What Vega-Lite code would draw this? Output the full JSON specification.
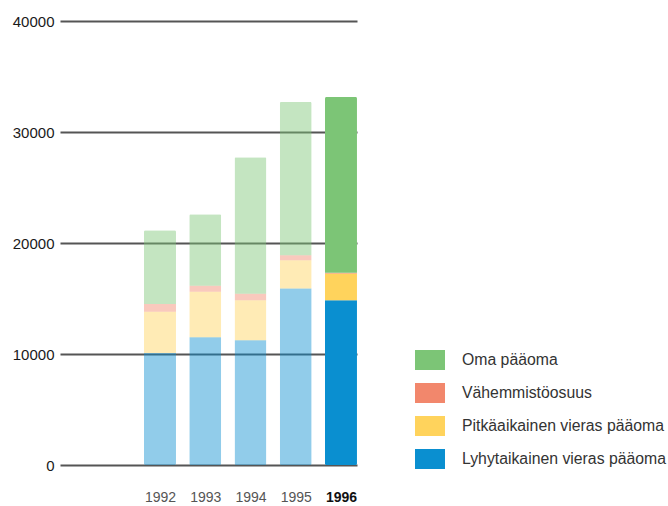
{
  "$schema": "https://vega.github.io/schema/vega-lite/v6.json",
  "width": 297,
  "height": 444,
  "autosize": {"type": "none"},
  "padding": {"left": 60, "top": 21, "right": 311, "bottom": 41},
  "background": "white",
  "config": {
    "view": {"stroke": null},
    "font": "Liberation Sans"
  },
  "data": {
    "values": [
      {"year": 1992, "series": "Lyhytaikainen vieras pääoma", "ord": 1, "value": 10100, "hl": "pale"},
      {"year": 1992, "series": "Pitkäaikainen vieras pääoma", "ord": 2, "value": 3700, "hl": "pale"},
      {"year": 1992, "series": "Vähemmistöosuus", "ord": 3, "value": 700, "hl": "pale"},
      {"year": 1992, "series": "Oma pääoma", "ord": 4, "value": 6650, "hl": "pale"},
      {"year": 1993, "series": "Lyhytaikainen vieras pääoma", "ord": 1, "value": 11500, "hl": "pale"},
      {"year": 1993, "series": "Pitkäaikainen vieras pääoma", "ord": 2, "value": 4100, "hl": "pale"},
      {"year": 1993, "series": "Vähemmistöosuus", "ord": 3, "value": 550, "hl": "pale"},
      {"year": 1993, "series": "Oma pääoma", "ord": 4, "value": 6450, "hl": "pale"},
      {"year": 1994, "series": "Lyhytaikainen vieras pääoma", "ord": 1, "value": 11250, "hl": "pale"},
      {"year": 1994, "series": "Pitkäaikainen vieras pääoma", "ord": 2, "value": 3600, "hl": "pale"},
      {"year": 1994, "series": "Vähemmistöosuus", "ord": 3, "value": 570, "hl": "pale"},
      {"year": 1994, "series": "Oma pääoma", "ord": 4, "value": 12300, "hl": "pale"},
      {"year": 1995, "series": "Lyhytaikainen vieras pääoma", "ord": 1, "value": 15900, "hl": "pale"},
      {"year": 1995, "series": "Pitkäaikainen vieras pääoma", "ord": 2, "value": 2550, "hl": "pale"},
      {"year": 1995, "series": "Vähemmistöosuus", "ord": 3, "value": 450, "hl": "pale"},
      {"year": 1995, "series": "Oma pääoma", "ord": 4, "value": 13800, "hl": "pale"},
      {"year": 1996, "series": "Lyhytaikainen vieras pääoma", "ord": 1, "value": 14850, "hl": "full"},
      {"year": 1996, "series": "Pitkäaikainen vieras pääoma", "ord": 2, "value": 2400, "hl": "full"},
      {"year": 1996, "series": "Vähemmistöosuus", "ord": 3, "value": 60, "hl": "full"},
      {"year": 1996, "series": "Oma pääoma", "ord": 4, "value": 15850, "hl": "full"}
    ]
  },
  "mark": {"type": "bar", "width": 32, "cornerRadius": 1.5},
  "encoding": {
    "x": {
      "field": "year",
      "type": "quantitative",
      "scale": {"domain": [1989.79, 1996.354], "nice": false, "zero": false, "padding": 0},
      "axis": {
        "values": [1992, 1993, 1994, 1995, 1996],
        "format": "d",
        "title": null,
        "domain": false,
        "ticks": false,
        "grid": false,
        "labelPadding": 25,
        "labelFontSize": 14,
        "labelColor": {"condition": {"test": "datum.value == 1996", "value": "#111111"}, "value": "#555555"},
        "labelFontWeight": {"condition": {"test": "datum.value == 1996", "value": "bold"}, "value": "normal"}
      }
    },
    "y": {
      "field": "value",
      "type": "quantitative",
      "stack": "zero",
      "scale": {"domain": [0, 40000], "nice": false},
      "axis": {
        "values": [0, 10000, 20000, 30000, 40000],
        "format": "d",
        "title": null,
        "domain": false,
        "ticks": false,
        "grid": true,
        "gridColor": "#555555",
        "gridWidth": 2,
        "gridOpacity": 1,
        "labelPadding": 6,
        "labelFontSize": 15,
        "labelColor": "#1a1a1a"
      }
    },
    "order": {"field": "ord", "type": "quantitative"},
    "color": {
      "field": "series",
      "type": "nominal",
      "scale": {
        "domain": ["Oma pääoma", "Vähemmistöosuus", "Pitkäaikainen vieras pääoma", "Lyhytaikainen vieras pääoma"],
        "range": ["#7cc576", "#f2876c", "#ffd35c", "#0a8fd0"]
      },
      "legend": {
        "title": null,
        "orient": "none",
        "legendX": 360,
        "legendY": 329,
        "symbolType": "M-1.5,-1H1.5V1H-1.5Z",
        "symbolSize": 400,
        "symbolStrokeWidth": 0,
        "symbolOpacity": 1,
        "labelFontSize": 15.8,
        "labelColor": "#333333",
        "labelOffset": 22,
        "labelLimit": 0,
        "rowPadding": 13
      }
    },
    "opacity": {
      "field": "hl",
      "type": "nominal",
      "scale": {"domain": ["pale", "full"], "range": [0.45, 1]},
      "legend": null
    }
  }
}
